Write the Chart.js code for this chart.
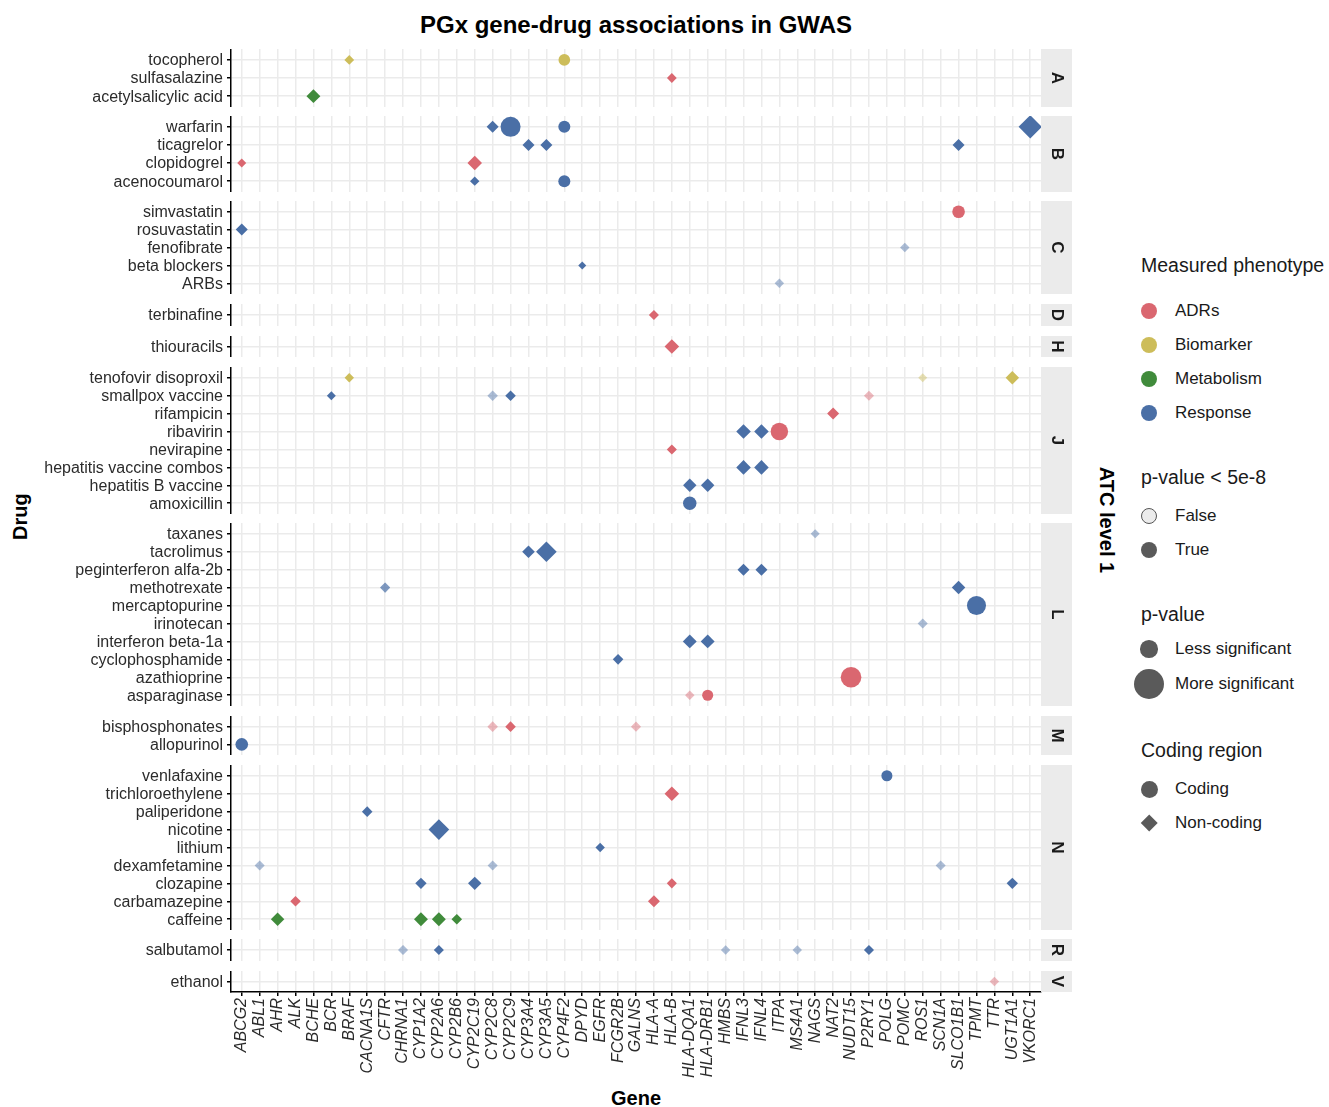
<!DOCTYPE html>
<html>
<head>
<meta charset="utf-8">
<script src="https://cdn.jsdelivr.net/npm/chart.js@4.4.1/dist/chart.umd.min.js"></script>
<style>
  html, body { margin: 0; padding: 0; background: #fff; }
  body { width: 1329px; height: 1107px; position: relative; overflow: hidden;
         font-family: "Liberation Sans", Arial, Helvetica, sans-serif; color: #1a1a1a; }
  .txt { position: absolute; white-space: nowrap; }
  .key { position: absolute; box-sizing: border-box; }
</style>
</head>
<body>
<div class="txt" style="left:0;width:1272px;top:10px;line-height:30px;text-align:center;font-weight:bold;font-size:24px;color:#000">PGx gene-drug associations in GWAS</div>
<div class="txt" style="left:0;top:508px;width:40px;line-height:24px;text-align:center;font-weight:bold;font-size:20px;color:#000;transform:rotate(-90deg)">Drug</div>
<div class="txt" style="left:1047px;top:508px;width:120px;line-height:24px;text-align:center;font-weight:bold;font-size:20px;color:#000;transform:rotate(90deg)">ATC level 1</div>
<div class="txt" style="left:536px;width:200px;top:1088px;line-height:20px;text-align:center;font-weight:bold;font-size:20px;color:#000">Gene</div>
<div id="legend"></div>

<script>
// ---- data ----
const genes = ['ABCG2', 'ABL1', 'AHR', 'ALK', 'BCHE', 'BCR', 'BRAF', 'CACNA1S', 'CFTR', 'CHRNA1',
  'CYP1A2', 'CYP2A6', 'CYP2B6', 'CYP2C19', 'CYP2C8', 'CYP2C9', 'CYP3A4', 'CYP3A5', 'CYP4F2', 'DPYD',
  'EGFR', 'FCGR2B', 'GALNS', 'HLA-A', 'HLA-B', 'HLA-DQA1', 'HLA-DRB1', 'HMBS', 'IFNL3', 'IFNL4',
  'ITPA', 'MS4A1', 'NAGS', 'NAT2', 'NUDT15', 'P2RY1', 'POLG', 'POMC', 'ROS1', 'SCN1A',
  'SLCO1B1', 'TPMT', 'TTR', 'UGT1A1', 'VKORC1'];

const atcLevels = ['A', 'B', 'C', 'D', 'H', 'J', 'L', 'M', 'N', 'R', 'V'];

const drugsA = ['tocopherol', 'sulfasalazine', 'acetylsalicylic acid'];
const drugsB = ['warfarin', 'ticagrelor', 'clopidogrel', 'acenocoumarol'];
const drugsC = ['simvastatin', 'rosuvastatin', 'fenofibrate', 'beta blockers', 'ARBs'];
const drugsD = ['terbinafine'];
const drugsH = ['thiouracils'];
const drugsJ = ['tenofovir disoproxil', 'smallpox vaccine', 'rifampicin', 'ribavirin', 'nevirapine',
  'hepatitis vaccine combos', 'hepatitis B vaccine', 'amoxicillin'];
const drugsL = ['taxanes', 'tacrolimus', 'peginterferon alfa-2b', 'methotrexate', 'mercaptopurine',
  'irinotecan', 'interferon beta-1a', 'cyclophosphamide', 'azathioprine', 'asparaginase'];
const drugsM = ['bisphosphonates', 'allopurinol'];
const drugsN = ['venlafaxine', 'trichloroethylene', 'paliperidone', 'nicotine', 'lithium',
  'dexamfetamine', 'clozapine', 'carbamazepine', 'caffeine'];
const drugsR = ['salbutamol'];
const drugsV = ['ethanol'];

const phenotypes = ['ADRs', 'Biomarker', 'Metabolism', 'Response'];
const phenotypeColors = ['#DA6770', '#CDBD5A', '#408B3B', '#4A6FA6'];

// [drug, gene, phenotype, p < 5e-8, significance score, coding]
const assocA = [
  ['tocopherol', 'BRAF', 'Biomarker', 1, 3.6, 0],
  ['tocopherol', 'CYP4F2', 'Biomarker', 1, 4.8, 1],
  ['sulfasalazine', 'HLA-B', 'ADRs', 1, 3.6, 0],
  ['acetylsalicylic acid', 'BCHE', 'Metabolism', 1, 6.2, 0]
];
const assocB = [
  ['warfarin', 'CYP2C8', 'Response', 1, 5, 0],
  ['warfarin', 'CYP2C9', 'Response', 1, 10, 1],
  ['warfarin', 'CYP4F2', 'Response', 1, 5, 1],
  ['warfarin', 'VKORC1', 'Response', 1, 12.1, 0],
  ['ticagrelor', 'CYP3A4', 'Response', 1, 5, 0],
  ['ticagrelor', 'CYP3A5', 'Response', 1, 5, 0],
  ['ticagrelor', 'SLCO1B1', 'Response', 1, 5, 0],
  ['clopidogrel', 'ABCG2', 'ADRs', 1, 3.1, 0],
  ['clopidogrel', 'CYP2C19', 'ADRs', 1, 6.6, 0],
  ['acenocoumarol', 'CYP2C19', 'Response', 1, 3.4, 0],
  ['acenocoumarol', 'CYP4F2', 'Response', 1, 5, 1]
];
const assocC = [
  ['simvastatin', 'SLCO1B1', 'ADRs', 1, 5.4, 1],
  ['rosuvastatin', 'ABCG2', 'Response', 1, 5, 0],
  ['fenofibrate', 'POMC', 'Response', 0, 3.4, 0],
  ['beta blockers', 'DPYD', 'Response', 1, 2.5, 0],
  ['ARBs', 'ITPA', 'Response', 0, 3.4, 0]
];
const assocD = [
  ['terbinafine', 'HLA-A', 'ADRs', 1, 3.8, 0]
];
const assocH = [
  ['thiouracils', 'HLA-B', 'ADRs', 1, 6.6, 0]
];
const assocJ = [
  ['tenofovir disoproxil', 'BRAF', 'Biomarker', 1, 3.4, 0],
  ['tenofovir disoproxil', 'ROS1', 'Biomarker', 0, 3.1, 0],
  ['tenofovir disoproxil', 'UGT1A1', 'Biomarker', 1, 5.9, 0],
  ['smallpox vaccine', 'BCR', 'Response', 1, 3.1, 0],
  ['smallpox vaccine', 'CYP2C8', 'Response', 0, 4.1, 0],
  ['smallpox vaccine', 'CYP2C9', 'Response', 1, 4.1, 0],
  ['smallpox vaccine', 'P2RY1', 'ADRs', 0, 3.8, 0],
  ['rifampicin', 'NAT2', 'ADRs', 1, 5, 0],
  ['ribavirin', 'IFNL3', 'Response', 1, 6.6, 0],
  ['ribavirin', 'IFNL4', 'Response', 1, 6.6, 0],
  ['ribavirin', 'ITPA', 'ADRs', 1, 8.4, 1],
  ['nevirapine', 'HLA-B', 'ADRs', 1, 3.8, 0],
  ['hepatitis vaccine combos', 'IFNL3', 'Response', 1, 6.6, 0],
  ['hepatitis vaccine combos', 'IFNL4', 'Response', 1, 6.6, 0],
  ['hepatitis B vaccine', 'HLA-DQA1', 'Response', 1, 5.9, 0],
  ['hepatitis B vaccine', 'HLA-DRB1', 'Response', 1, 5.9, 0],
  ['amoxicillin', 'HLA-DQA1', 'Response', 1, 5.9, 1]
];
const assocL = [
  ['taxanes', 'NAGS', 'Response', 0, 3.1, 0],
  ['tacrolimus', 'CYP3A4', 'Response', 1, 5.4, 0],
  ['tacrolimus', 'CYP3A5', 'Response', 1, 10.4, 0],
  ['peginterferon alfa-2b', 'IFNL3', 'Response', 1, 5, 0],
  ['peginterferon alfa-2b', 'IFNL4', 'Response', 1, 5, 0],
  ['methotrexate', 'CFTR', 'Response', 0, 3.8, 0],
  ['methotrexate', 'CFTR', 'Response', 0, 3.8, 0],
  ['methotrexate', 'SLCO1B1', 'Response', 1, 5.9, 0],
  ['mercaptopurine', 'TPMT', 'Response', 1, 9.4, 1],
  ['irinotecan', 'ROS1', 'Response', 0, 3.8, 0],
  ['interferon beta-1a', 'HLA-DQA1', 'Response', 1, 6.2, 0],
  ['interferon beta-1a', 'HLA-DRB1', 'Response', 1, 6.2, 0],
  ['cyclophosphamide', 'FCGR2B', 'Response', 1, 4.1, 0],
  ['azathioprine', 'NUDT15', 'ADRs', 1, 10.4, 1],
  ['asparaginase', 'HLA-DQA1', 'ADRs', 0, 3.4, 0],
  ['asparaginase', 'HLA-DRB1', 'ADRs', 1, 4.4, 1]
];
const assocM = [
  ['bisphosphonates', 'CYP2C8', 'ADRs', 0, 4.1, 0],
  ['bisphosphonates', 'CYP2C9', 'ADRs', 1, 4.1, 0],
  ['bisphosphonates', 'GALNS', 'ADRs', 0, 3.8, 0],
  ['allopurinol', 'ABCG2', 'Response', 1, 5.4, 1]
];
const assocN = [
  ['venlafaxine', 'POLG', 'Response', 1, 4.4, 1],
  ['trichloroethylene', 'HLA-B', 'ADRs', 1, 6.6, 0],
  ['paliperidone', 'CACNA1S', 'Response', 1, 4.1, 0],
  ['nicotine', 'CYP2A6', 'Response', 1, 10.4, 0],
  ['lithium', 'EGFR', 'Response', 1, 3.4, 0],
  ['dexamfetamine', 'ABL1', 'Response', 0, 3.8, 0],
  ['dexamfetamine', 'CYP2C8', 'Response', 0, 3.8, 0],
  ['dexamfetamine', 'SCN1A', 'Response', 0, 3.8, 0],
  ['clozapine', 'CYP1A2', 'Response', 1, 4.6, 0],
  ['clozapine', 'CYP2C19', 'Response', 1, 5.9, 0],
  ['clozapine', 'HLA-B', 'ADRs', 1, 3.8, 0],
  ['clozapine', 'UGT1A1', 'Response', 1, 4.6, 0],
  ['carbamazepine', 'ALK', 'ADRs', 1, 4.1, 0],
  ['carbamazepine', 'HLA-A', 'ADRs', 1, 5, 0],
  ['caffeine', 'AHR', 'Metabolism', 1, 5.9, 0],
  ['caffeine', 'CYP1A2', 'Metabolism', 1, 6.2, 0],
  ['caffeine', 'CYP2A6', 'Metabolism', 1, 6.2, 0],
  ['caffeine', 'CYP2B6', 'Metabolism', 1, 4.1, 0]
];
const assocR = [
  ['salbutamol', 'CHRNA1', 'Response', 0, 3.8, 0],
  ['salbutamol', 'CYP2A6', 'Response', 1, 3.8, 0],
  ['salbutamol', 'HMBS', 'Response', 0, 3.4, 0],
  ['salbutamol', 'MS4A1', 'Response', 0, 3.4, 0],
  ['salbutamol', 'P2RY1', 'Response', 1, 3.8, 0]
];
const assocV = [
  ['ethanol', 'TTR', 'ADRs', 0, 3.4, 0]
];

const facetDrugs = [drugsA, drugsB, drugsC, drugsD, drugsH, drugsJ, drugsL, drugsM, drugsN, drugsR, drugsV];
const facetAssoc = [assocA, assocB, assocC, assocD, assocH, assocJ, assocL, assocM, assocN, assocR, assocV];

// ---- layout ----
const FONT = '"Liberation Sans", Arial, Helvetica, sans-serif';
const ROW = 17.9;       // px per category step
const GAP = 9.8;        // gap between facet panels
const TOP = 49.3;       // top of first panel
const YAXIS_W = 231;    // left edge of panels
const PANEL_R = 1041;   // right edge of panels
const STRIP_W = 31;
const XAXIS_H = 115;
const GRID = '#ebebeb';
const LABEL = '#2b2b2b';

function rgba(hex, a) {
  const n = parseInt(hex.slice(1), 16);
  return `rgba(${n >> 16},${(n >> 8) & 255},${n & 255},${a})`;
}
function markerRadius(score) { return 2 + 0.8 * score; }

const stripPlugin = {
  id: 'strip',
  afterDraw(chart, args, opts) {
    const { ctx, chartArea: a } = chart;
    ctx.save();
    ctx.fillStyle = GRID;
    ctx.fillRect(a.right, a.top, STRIP_W, a.bottom - a.top);
    ctx.translate(a.right + STRIP_W / 2, (a.top + a.bottom) / 2);
    ctx.rotate(Math.PI / 2);
    ctx.fillStyle = '#1a1a1a';
    ctx.font = 'bold 17px ' + FONT;
    ctx.textAlign = 'center';
    ctx.textBaseline = 'middle';
    ctx.fillText(opts.label, 0, 0);
    ctx.restore();
  }
};

let panelTop = TOP;
atcLevels.forEach((atc, k) => {
  const drugs = facetDrugs[k];
  const rows = facetAssoc[k];
  const last = k === atcLevels.length - 1;
  const panelH = (drugs.length + 0.2) * ROW;
  const cTop = Math.round(panelTop);
  const h = Math.round(panelTop + panelH) - cTop;

  const cv = document.createElement('canvas');
  cv.width = PANEL_R + STRIP_W;
  cv.height = h + (last ? XAXIS_H : 0);
  cv.style.cssText = `position:absolute;left:0;top:${cTop}px;`;
  document.body.appendChild(cv);

  const datasets = phenotypes.map((ph, p) => ({
    label: ph,
    data: rows.filter(r => r[2] === ph).map(r => ({
      x: genes.indexOf(r[1]), y: drugs.indexOf(r[0]), sig: r[3], score: r[4], coding: r[5]
    })),
    pointStyle: c => (c.raw && c.raw.coding ? 'circle' : 'rectRot'),
    pointRadius: c => (c.raw ? markerRadius(c.raw.score) : 0),
    pointBackgroundColor: c => rgba(phenotypeColors[p], c.raw && !c.raw.sig ? 0.45 : 1),
    pointBorderWidth: 0,
    pointBorderColor: 'rgba(0,0,0,0)',
    borderWidth: 0,
    clip: 0
  }));

  const gridOpts = { color: GRID, lineWidth: 1.5, tickLength: 4, tickColor: '#000', tickWidth: 1.5 };

  new Chart(cv, {
    type: 'scatter',
    data: { datasets },
    plugins: [stripPlugin],
    options: {
      responsive: false,
      animation: false,
      events: [],
      layout: { autoPadding: false, padding: { left: 0, right: STRIP_W, top: 0, bottom: 0 } },
      plugins: { legend: { display: false }, tooltip: { enabled: false }, strip: { label: atc } },
      scales: {
        x: {
          type: 'linear', bounds: 'data', min: -0.6, max: genes.length - 0.4,
          afterBuildTicks: s => { s.ticks = genes.map((_, i) => ({ value: i })); },
          afterFit: s => { s.height = last ? XAXIS_H : 0; s.paddingLeft = 0; s.paddingRight = 0; },
          grid: Object.assign({ drawTicks: last }, gridOpts),
          border: { display: last, color: '#000', width: 1.5 },
          ticks: {
            display: last, autoSkip: false, minRotation: 90, maxRotation: 90, padding: 2,
            color: LABEL, font: { family: FONT, size: 16, style: 'italic' },
            callback: v => genes[v]
          }
        },
        y: {
          type: 'linear', bounds: 'data', reverse: true, min: -0.6, max: drugs.length - 0.4,
          afterBuildTicks: s => { s.ticks = drugs.map((_, i) => ({ value: i })); },
          afterFit: s => { s.width = YAXIS_W; s.paddingTop = 0; s.paddingBottom = 0; },
          grid: Object.assign({ drawTicks: true }, gridOpts),
          border: { display: true, color: '#000', width: 1.5 },
          ticks: {
            autoSkip: false, padding: 4, labelOffset: 1, color: LABEL, font: { family: FONT, size: 16 },
            callback: v => drugs[v]
          }
        }
      }
    }
  });

  panelTop += panelH + GAP;
});

// ---- legend (html) ----
const KEY_GREY = '#5a5a5a';
const legend = document.getElementById('legend');
function addText(x, y, text, size) {
  const d = document.createElement('div');
  d.className = 'txt';
  d.style.cssText = `left:${x}px;top:${y - 12}px;line-height:24px;font-size:${size}px;color:#1a1a1a`;
  d.textContent = text;
  legend.appendChild(d);
}
function addCircle(cx, cy, r, fill, stroke) {
  const d = document.createElement('div');
  d.className = 'key';
  d.style.cssText = `left:${cx - r}px;top:${cy - r}px;width:${2 * r}px;height:${2 * r}px;border-radius:50%;background:${fill};` +
    (stroke ? `border:1.6px solid ${stroke};` : '');
  legend.appendChild(d);
}
function addDiamond(cx, cy, r, fill) {
  const s = r * Math.SQRT2;
  const d = document.createElement('div');
  d.className = 'key';
  d.style.cssText = `left:${cx - s / 2}px;top:${cy - s / 2}px;width:${s}px;height:${s}px;background:${fill};transform:rotate(45deg)`;
  legend.appendChild(d);
}

const LX = 1141, KX = 1149, TX = 1175;
addText(LX, 265, 'Measured phenotype', 19.5);
phenotypes.forEach((p, i) => {
  addCircle(KX, 311 + 34 * i, 8.3, phenotypeColors[i]);
  addText(TX, 311 + 34 * i, p, 17);
});
addText(LX, 477, 'p-value < 5e-8', 19.5);
addCircle(KX, 516, 8.3, '#ececec', '#555');
addText(TX, 516, 'False', 17);
addCircle(KX, 550, 8.3, KEY_GREY);
addText(TX, 550, 'True', 17);
addText(LX, 614, 'p-value', 19.5);
addCircle(KX, 649, 8.8, KEY_GREY);
addText(TX, 649, 'Less significant', 17);
addCircle(KX, 684, 15.3, KEY_GREY);
addText(TX, 684, 'More significant', 17);
addText(LX, 750, 'Coding region', 19.5);
addCircle(KX, 789, 8.5, KEY_GREY);
addText(TX, 789, 'Coding', 17);
addDiamond(KX, 823, 8.8, KEY_GREY);
addText(TX, 823, 'Non-coding', 17);
</script>
</body>
</html>
